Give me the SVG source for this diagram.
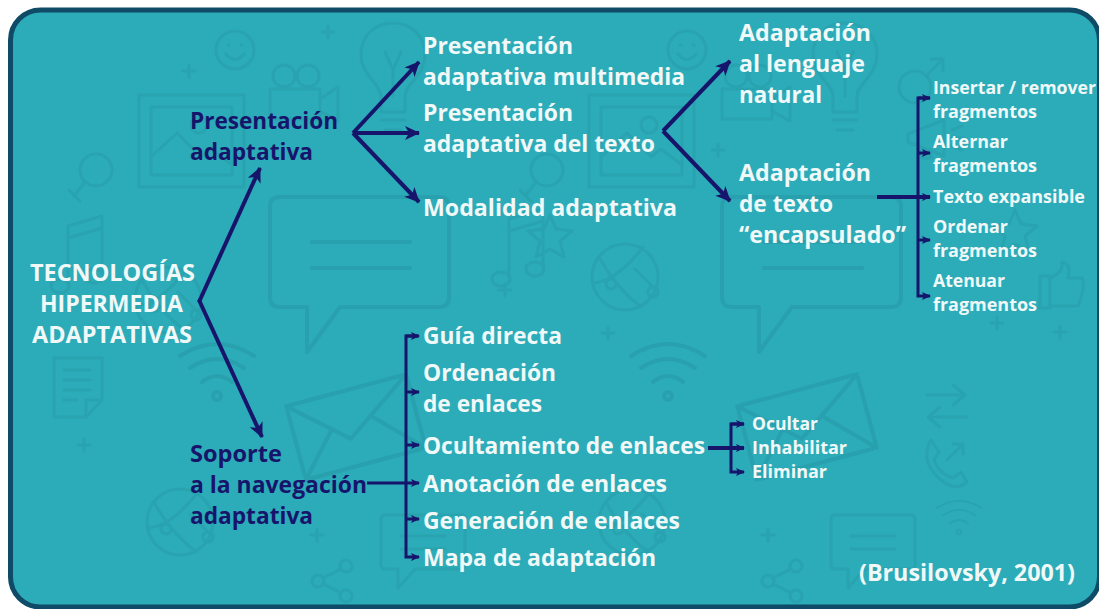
<svg xmlns="http://www.w3.org/2000/svg" width="1099" height="609" viewBox="0 0 1099 609">
<style>
text{font-family:"Open Sans","Noto Sans",sans-serif;font-weight:700;fill:#f1f8f8}
.dark{fill:#17156b;font-size:24px}
.big{font-size:24px}
.root{font-size:23px}
.small{font-size:17px}
.xs{font-size:17px}
.ln{fill:none;stroke:#17156b;stroke-width:4}
.thin{fill:none;stroke:#17156b;stroke-width:3}
.ic{fill:none;stroke:#28a0ae;stroke-width:4;stroke-linecap:round;stroke-linejoin:round}
.ic2{fill:none;stroke:#29a3b0;stroke-width:3;stroke-linecap:round;stroke-linejoin:round}
</style>
<defs>
<marker id="ah" markerUnits="userSpaceOnUse" markerWidth="18" markerHeight="18" refX="15" refY="9" orient="auto"><path d="M1 2 L16 9 L1 16 L5 9Z" fill="#17156b"/></marker>
<marker id="as" markerUnits="userSpaceOnUse" markerWidth="10" markerHeight="10" refX="8" refY="5" orient="auto"><path d="M0 1 L9 5 L0 9 L2 5Z" fill="#17156b"/></marker>
<g id="plus"><path d="M-6 0H6M0 -6V6"/></g>
<g id="smiley"><circle r="19"/><path d="M-9 4Q0 15 9 4M-7 -5h1M6 -5h1"/></g>
<g id="bulb"><path d="M-12 72V56C-12 44 -32 36 -32 14C-32 -4 -18 -17 0 -17S32 -4 32 14C32 36 12 44 12 56V72ZM-8 12L0 30L8 12M0 30V56M-12 80H12M-8 90H8"/></g>
<g id="frame"><rect width="105" height="92"/><rect x="12" y="12" width="81" height="68"/><path d="M12 62L38 38L62 62L72 54L93 70"/><circle cx="60" cy="30" r="8"/></g>
<g id="camera"><circle cx="14" cy="11" r="11"/><circle cx="38" cy="11" r="11"/><rect x="0" y="24" width="50" height="30"/><path d="M50 34L68 22V56L50 46"/></g>
<g id="female"><circle r="16"/><path d="M-11 12L-22 26M-27 20L-16 31"/></g>
<g id="male"><circle r="16"/><path d="M11 -11L28 -28M16 -28H28V-16"/></g>
<g id="bubble"><path d="M10 0H169Q179 0 179 10V100Q179 110 169 110H70L37 155L37 110H10Q0 110 0 100V10Q0 0 10 0Z"/><path d="M42 45H140M42 71H140"/></g>
<g id="note"><path d="M14 72V14L48 4V62M14 26L48 16"/><ellipse cx="6" cy="74" rx="9" ry="7"/><ellipse cx="40" cy="64" rx="9" ry="7"/></g>
<g id="wifi"><circle cx="0" cy="0" r="4"/><path d="M-15 -14Q0 -26 15 -14M-27 -28Q0 -46 27 -28M-37 -40Q0 -64 37 -40"/></g>
<g id="doc"><path d="M0 0H48V42L32 59H0ZM48 42H32V59M10 12H36M10 22H36M10 32H36M10 42H22"/></g>
<g id="globe"><circle r="33"/><path d="M-26 -20Q-10 10 16 30M-32 6Q-8 4 18 -30M10 -8L30 12M-14 2a5 5 0 1 0 .1 0M28 10a5 5 0 1 0 .1 0"/></g>
<g id="envelope"><rect x="-62" y="-38" width="124" height="76" rx="4"/><path d="M-62 -38L-8 10L62 -38M-62 38L-24 -4M62 38L18 -6"/></g>
<g id="share"><circle cx="6" cy="21" r="6"/><circle cx="34" cy="6" r="6"/><circle cx="34" cy="36" r="6"/><path d="M11 18L29 9M11 24L29 33"/></g>
<g id="mini"><path d="M4 0H80Q84 0 84 4V50Q84 54 80 54H34L17 73V54H4Q0 54 0 50V4Q0 0 4 0Z"/><path d="M20 21H64M20 34H64"/></g>
<g id="arrows"><path d="M2 10H40L28 0M40 10L28 20M42 32H3L15 22M3 32L15 42"/></g>
<g id="phone"><path d="M6 0L14 12L9 20Q14 34 28 38L36 32L42 42Q30 52 16 40Q-6 22 6 0ZM22 20L38 4M28 4H38V14"/></g>
<g id="thumb"><path d="M0 14H10V46H0ZM10 16Q24 10 22 0Q32 2 28 16H42Q46 24 38 44H10"/></g>
<g id="star"><path d="M20 0L26 14L42 16L30 26L34 42L20 34L6 42L10 26L-2 16L14 14Z"/></g>
<g id="mega"><path d="M0 14L36 0V36L0 22ZM10 26L14 38H24L20 30M44 10L54 6M44 18H56M44 26L54 30"/></g>
</defs>

<!-- Panel -->
<rect id="panel" x="10.500" y="10" width="1089" height="597" rx="30" fill="#2bacb8" stroke="#0f4a66" stroke-width="5"/>

<!-- Faint icon wallpaper -->
<g id="wallpaper">
<g class="ic2">
<use href="#smiley" transform="translate(235,50)"/>
<use href="#smiley" transform="translate(687,50)"/>
<use href="#plus" transform="translate(328,32)"/>
<use href="#plus" transform="translate(189,71)"/>
<use href="#plus" transform="translate(718,150)"/>
<use href="#plus" transform="translate(608,333)"/>
<use href="#plus" transform="translate(997,323)"/>
<use href="#plus" transform="translate(1060,332)"/>
<use href="#plus" transform="translate(84,445)"/>
<use href="#plus" transform="translate(317,535)"/>
<use href="#plus" transform="translate(768,535)"/>
<use href="#plus" transform="translate(505,290)"/>
<use href="#bulb" transform="translate(393,40)"/>
<use href="#bulb" transform="translate(845,40)"/>
<use href="#frame" transform="translate(139,95)"/>
<use href="#frame" transform="translate(589,95)"/>
<use href="#camera" transform="translate(270,65)"/>
<use href="#camera" transform="translate(722,65)"/>
<use href="#female" transform="translate(96,170)"/>
<use href="#female" transform="translate(547,170)"/>
<use href="#male" transform="translate(915,87)"/>
<use href="#note" transform="translate(54,212)"/>
<use href="#note" transform="translate(495,205)"/>
<use href="#globe" transform="translate(168,300)"/>
<use href="#globe" transform="translate(625,277)"/>
<use href="#globe" transform="translate(180,522)"/>
<use href="#globe" transform="translate(632,522)"/>
<use href="#doc" transform="translate(54,358)"/>
<use href="#share" transform="translate(312,560)"/>
<use href="#share" transform="translate(762,560)"/>
<use href="#mini" transform="translate(381,515)"/>
<use href="#mini" transform="translate(831,515)"/>
<use href="#arrows" transform="translate(925,385)"/>
<use href="#phone" transform="translate(925,440)"/>
<use href="#wifi" transform="translate(959,532) scale(.6)"/>
<use href="#thumb" transform="translate(1040,262)"/>
<use href="#star" transform="translate(995,210)"/>
<use href="#star" transform="translate(530,215)"/>
<use href="#mega" transform="translate(908,120)"/>
</g>
<g class="ic">
<use href="#bubble" transform="translate(270,197)"/>
<use href="#bubble" transform="translate(722,197)"/>
<use href="#wifi" transform="translate(217,396)"/>
<use href="#wifi" transform="translate(668,396)"/>
<use href="#envelope" transform="translate(356,427) rotate(-15)"/>
<use href="#envelope" transform="translate(807,427) rotate(-15)"/>
</g>
</g>

<!-- Connectors -->
<g id="connectors">
<path class="ln" d="M199 302L260 168" marker-end="url(#ah)"/>
<path class="ln" d="M199 300L262 437" marker-end="url(#ah)"/>
<path class="ln" d="M353 133L419 62" marker-end="url(#ah)"/>
<path class="ln" d="M353 133H419" marker-end="url(#ah)"/>
<path class="ln" d="M353 133L419 202" marker-end="url(#ah)"/>
<path class="ln" d="M663 131L730 61" marker-end="url(#ah)"/>
<path class="ln" d="M663 131L730 201" marker-end="url(#ah)"/>
<path class="ln" d="M877 197H930" marker-end="url(#as)"/>
<path class="thin" d="M930 98H918V296H930" marker-end="url(#as)"/>
<path class="thin" d="M918 98H930" marker-end="url(#as)"/>
<path class="thin" d="M918 153H930" marker-end="url(#as)"/>
<path class="thin" d="M918 240H930" marker-end="url(#as)"/>
<path class="thin" d="M367 483H419" marker-end="url(#as)"/>
<path class="thin" d="M418 336H406V557H419" marker-end="url(#as)"/>
<path class="thin" d="M406 336H419" marker-end="url(#as)"/>
<path class="thin" d="M406 392H419" marker-end="url(#as)"/>
<path class="thin" d="M406 445H419" marker-end="url(#as)"/>
<path class="thin" d="M406 519H419" marker-end="url(#as)"/>
<path class="ln" d="M708 448H744" marker-end="url(#as)"/>
<path class="thin" d="M744 424H731V472H744" marker-end="url(#as)"/>
<path class="thin" d="M731 424H744" marker-end="url(#as)"/>
</g>

<!-- Nodes -->
<g id="n-root">
<text class="root" x="30" y="281" textLength="165" lengthAdjust="spacingAndGlyphs">TECNOLOGÍAS</text>
<text class="root" x="40" y="312" textLength="143" lengthAdjust="spacingAndGlyphs">HIPERMEDIA</text>
<text class="root" x="32" y="343" textLength="160" lengthAdjust="spacingAndGlyphs">ADAPTATIVAS</text>
</g>
<g id="n-presentacion">
<text class="dark" x="190" y="129" textLength="148" lengthAdjust="spacingAndGlyphs">Presentación</text>
<text class="dark" x="190" y="160" textLength="123" lengthAdjust="spacingAndGlyphs">adaptativa</text>
</g>
<g id="n-soporte">
<text class="dark" x="190" y="462" textLength="92" lengthAdjust="spacingAndGlyphs">Soporte</text>
<text class="dark" x="190" y="493" textLength="177" lengthAdjust="spacingAndGlyphs">a la navegación</text>
<text class="dark" x="190" y="524" textLength="123" lengthAdjust="spacingAndGlyphs">adaptativa</text>
</g>
<g id="n-multimedia">
<text class="big" x="423" y="54" textLength="150" lengthAdjust="spacingAndGlyphs">Presentación</text>
<text class="big" x="423" y="85" textLength="262" lengthAdjust="spacingAndGlyphs">adaptativa multimedia</text>
</g>
<g id="n-texto">
<text class="big" x="423" y="121" textLength="150" lengthAdjust="spacingAndGlyphs">Presentación</text>
<text class="big" x="423" y="152" textLength="232" lengthAdjust="spacingAndGlyphs">adaptativa del texto</text>
</g>
<g id="n-modalidad"><text class="big" x="423" y="216" textLength="254" lengthAdjust="spacingAndGlyphs">Modalidad adaptativa</text></g>
<g id="n-lenguaje">
<text class="big" x="739" y="41" textLength="132" lengthAdjust="spacingAndGlyphs">Adaptación</text>
<text class="big" x="739" y="72" textLength="126" lengthAdjust="spacingAndGlyphs">al lenguaje</text>
<text class="big" x="739" y="103" textLength="83" lengthAdjust="spacingAndGlyphs">natural</text>
</g>
<g id="n-encapsulado">
<text class="big" x="739" y="181" textLength="132" lengthAdjust="spacingAndGlyphs">Adaptación</text>
<text class="big" x="739" y="212" textLength="94" lengthAdjust="spacingAndGlyphs">de texto</text>
<text class="big" x="739" y="243" textLength="167" lengthAdjust="spacingAndGlyphs">“encapsulado”</text>
</g>
<g id="n-insertar">
<text class="small" x="933" y="94" textLength="163" lengthAdjust="spacingAndGlyphs">Insertar / remover</text>
<text class="small" x="933" y="118" textLength="104" lengthAdjust="spacingAndGlyphs">fragmentos</text>
</g>
<g id="n-alternar">
<text class="small" x="933" y="148" textLength="75" lengthAdjust="spacingAndGlyphs">Alternar</text>
<text class="small" x="933" y="172" textLength="104" lengthAdjust="spacingAndGlyphs">fragmentos</text>
</g>
<g id="n-expansible"><text class="small" x="933" y="203" textLength="152" lengthAdjust="spacingAndGlyphs">Texto expansible</text></g>
<g id="n-ordenar">
<text class="small" x="933" y="233" textLength="75" lengthAdjust="spacingAndGlyphs">Ordenar</text>
<text class="small" x="933" y="257" textLength="104" lengthAdjust="spacingAndGlyphs">fragmentos</text>
</g>
<g id="n-atenuar">
<text class="small" x="933" y="287" textLength="72" lengthAdjust="spacingAndGlyphs">Atenuar</text>
<text class="small" x="933" y="311" textLength="104" lengthAdjust="spacingAndGlyphs">fragmentos</text>
</g>
<g id="n-guia"><text class="big" x="423" y="344" textLength="139" lengthAdjust="spacingAndGlyphs">Guía directa</text></g>
<g id="n-ordenacion">
<text class="big" x="423" y="381" textLength="133" lengthAdjust="spacingAndGlyphs">Ordenación</text>
<text class="big" x="423" y="412" textLength="119" lengthAdjust="spacingAndGlyphs">de enlaces</text>
</g>
<g id="n-ocultamiento"><text class="big" x="423" y="454" textLength="282" lengthAdjust="spacingAndGlyphs">Ocultamiento de enlaces</text></g>
<g id="n-anotacion"><text class="big" x="423" y="492" textLength="244" lengthAdjust="spacingAndGlyphs">Anotación de enlaces</text></g>
<g id="n-generacion"><text class="big" x="423" y="529" textLength="257" lengthAdjust="spacingAndGlyphs">Generación de enlaces</text></g>
<g id="n-mapa"><text class="big" x="423" y="566" textLength="233" lengthAdjust="spacingAndGlyphs">Mapa de adaptación</text></g>
<g id="n-ocultar"><text class="xs" x="752" y="430" textLength="66" lengthAdjust="spacingAndGlyphs">Ocultar</text></g>
<g id="n-inhabilitar"><text class="xs" x="752" y="454" textLength="95" lengthAdjust="spacingAndGlyphs">Inhabilitar</text></g>
<g id="n-eliminar"><text class="xs" x="752" y="478" textLength="75" lengthAdjust="spacingAndGlyphs">Eliminar</text></g>
<g id="n-cita"><text class="big" x="859" y="581" textLength="216" lengthAdjust="spacingAndGlyphs">(Brusilovsky, 2001)</text></g>
</svg>
